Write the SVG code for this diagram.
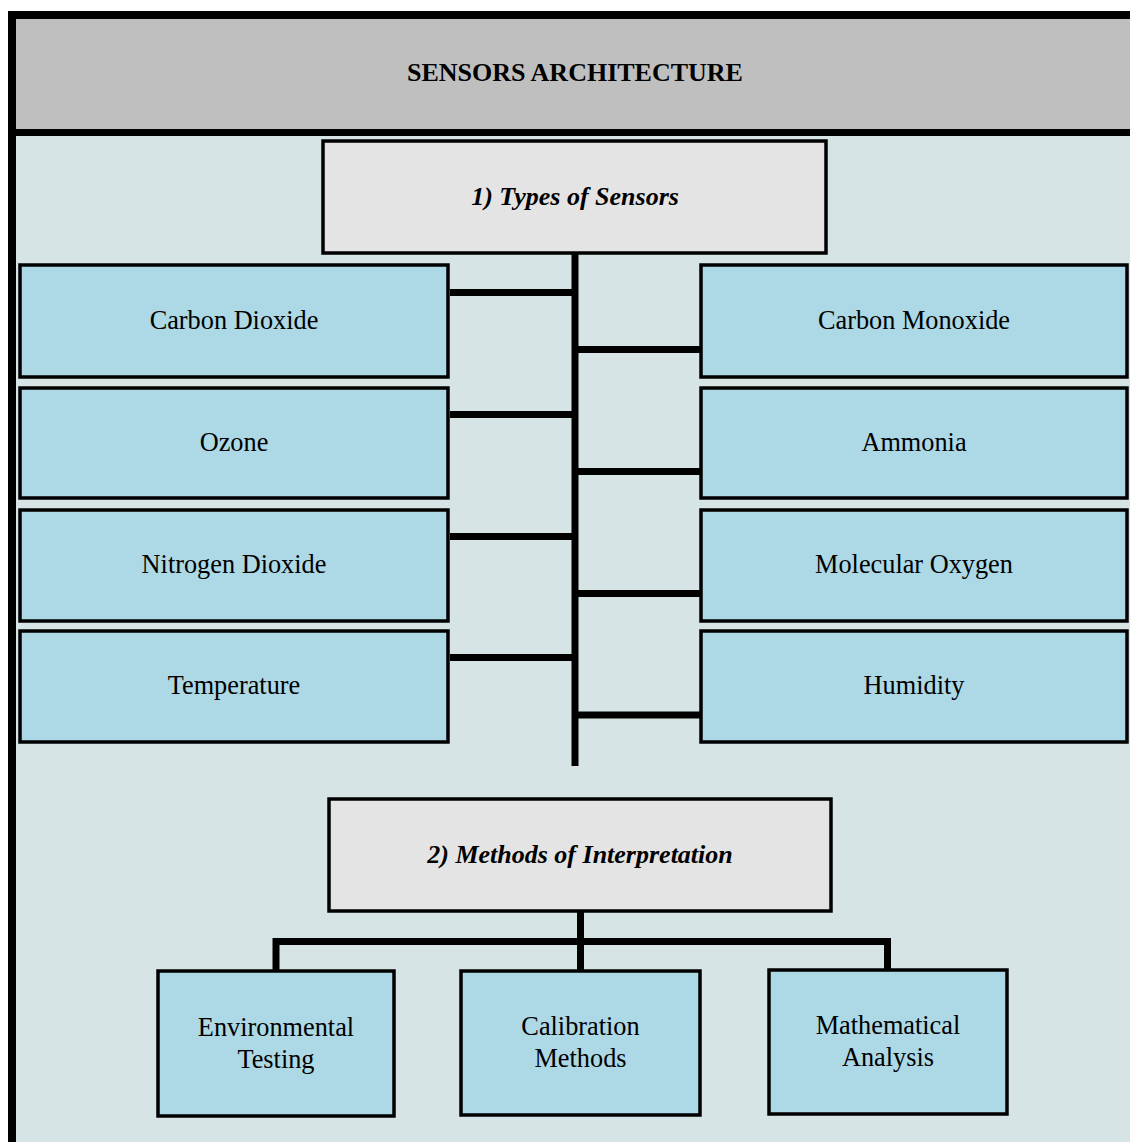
<svg xmlns="http://www.w3.org/2000/svg" width="1130" height="1142" viewBox="0 0 1130 1142">
  <style>
    text { font-family: "Liberation Serif", "Times New Roman", serif; fill: #000; text-anchor: middle; }
    .head { font-size: 26px; font-weight: bold; }
    .title { font-size: 26px; font-weight: bold; font-style: italic; }
    .lbl { font-size: 26.3px; }
    .item { fill: #ADD8E6; stroke: #000; stroke-width: 3.5; }
    .sect { fill: #E4E4E4; stroke: #000; stroke-width: 3.5; }
    .link { fill: none; stroke: #000; stroke-width: 7; stroke-linejoin: miter; }
  </style>

  <!-- page frame -->
  <g id="frame">
    <rect x="0" y="0" width="1130" height="1142" fill="#FFFFFF"/>
    <rect x="12" y="15" width="1130" height="1140" fill="#D6E4E5" stroke="#000" stroke-width="8"/>
    <rect x="16" y="19" width="1114" height="110" fill="#BFBFBF"/>
    <line x1="8" y1="132.5" x2="1130" y2="132.5" stroke="#000" stroke-width="7"/>
    <text class="head" x="575" y="81">SENSORS ARCHITECTURE</text>
  </g>

  <!-- connectors -->
  <g id="connectors">
    <line class="link" x1="575" y1="250" x2="575" y2="766"/>
    <line class="link" x1="450" y1="292.5" x2="575" y2="292.5"/>
    <line class="link" x1="450" y1="414.5" x2="575" y2="414.5"/>
    <line class="link" x1="450" y1="536.5" x2="575" y2="536.5"/>
    <line class="link" x1="450" y1="657.5" x2="575" y2="657.5"/>
    <line class="link" x1="575" y1="349.5" x2="700" y2="349.5"/>
    <line class="link" x1="575" y1="471.5" x2="700" y2="471.5"/>
    <line class="link" x1="575" y1="593.5" x2="700" y2="593.5"/>
    <line class="link" x1="575" y1="715" x2="700" y2="715"/>
    <path class="link" d="M276,970 V941.5 H887.5 V970"/>
    <line class="link" x1="580.5" y1="912" x2="580.5" y2="970"/>
  </g>

  <!-- section 1 -->
  <g id="types-of-sensors">
    <rect class="sect" x="323" y="141" width="503" height="112"/>
    <text class="title" x="575" y="205">1) Types of Sensors</text>
  </g>

  <g id="carbon-dioxide">
    <rect class="item" x="20" y="265" width="428" height="112"/>
    <text class="lbl" x="234" y="329">Carbon Dioxide</text>
  </g>
  <g id="ozone">
    <rect class="item" x="20" y="388" width="428" height="110"/>
    <text class="lbl" x="234" y="451">Ozone</text>
  </g>
  <g id="nitrogen-dioxide">
    <rect class="item" x="20" y="510" width="428" height="111"/>
    <text class="lbl" x="234" y="573">Nitrogen Dioxide</text>
  </g>
  <g id="temperature">
    <rect class="item" x="20" y="631" width="428" height="111"/>
    <text class="lbl" x="234" y="694">Temperature</text>
  </g>

  <g id="carbon-monoxide">
    <rect class="item" x="701" y="265" width="426" height="112"/>
    <text class="lbl" x="914" y="329">Carbon Monoxide</text>
  </g>
  <g id="ammonia">
    <rect class="item" x="701" y="388" width="426" height="110"/>
    <text class="lbl" x="914" y="451">Ammonia</text>
  </g>
  <g id="molecular-oxygen">
    <rect class="item" x="701" y="510" width="426" height="111"/>
    <text class="lbl" x="914" y="573">Molecular Oxygen</text>
  </g>
  <g id="humidity">
    <rect class="item" x="701" y="631" width="426" height="111"/>
    <text class="lbl" x="914" y="694">Humidity</text>
  </g>

  <!-- section 2 -->
  <g id="methods-of-interpretation">
    <rect class="sect" x="329" y="799" width="502" height="112"/>
    <text class="title" x="580" y="863">2) Methods of Interpretation</text>
  </g>

  <g id="environmental-testing">
    <rect class="item" x="158" y="971" width="236" height="145"/>
    <text class="lbl" x="276" y="1036">Environmental</text>
    <text class="lbl" x="276" y="1068">Testing</text>
  </g>
  <g id="calibration-methods">
    <rect class="item" x="461" y="971" width="239" height="144"/>
    <text class="lbl" x="580.5" y="1035">Calibration</text>
    <text class="lbl" x="580.5" y="1067">Methods</text>
  </g>
  <g id="mathematical-analysis">
    <rect class="item" x="769" y="970" width="238" height="144"/>
    <text class="lbl" x="888" y="1034">Mathematical</text>
    <text class="lbl" x="888" y="1066">Analysis</text>
  </g>
</svg>
